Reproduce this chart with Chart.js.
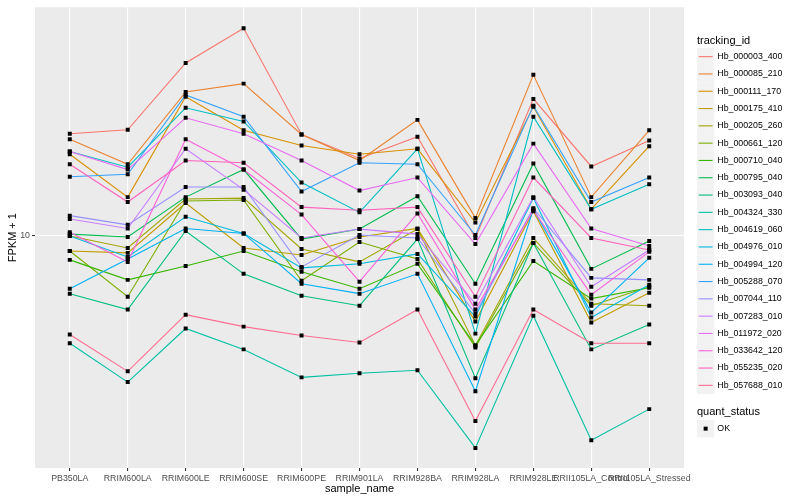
<!DOCTYPE html>
<html>
<head>
<meta charset="utf-8">
<script src="https://cdn.jsdelivr.net/npm/chart.js@4"></script>
<style>
  html, body { margin: 0; padding: 0; background: #fff; }
  #wrap { width: 800px; height: 500px; }
</style>
</head>
<body>
<div id="wrap"><canvas id="fpkmChart" width="800" height="500"></canvas></div>
<script>
const categories = ['PB350LA', 'RRIM600LA', 'RRIM600LE', 'RRIM600SE', 'RRIM600PE', 'RRIM901LA',
  'RRIM928BA', 'RRIM928LA', 'RRIM928LE', 'RRII105LA_Control', 'RRII105LA_Stressed'];

const trackingIds = ['Hb_000003_400', 'Hb_000085_210', 'Hb_000111_170', 'Hb_000175_410', 'Hb_000205_260',
  'Hb_000661_120', 'Hb_000710_040', 'Hb_000795_040', 'Hb_003093_040', 'Hb_004324_330',
  'Hb_004619_060', 'Hb_004976_010', 'Hb_004994_120', 'Hb_005288_070', 'Hb_007044_110',
  'Hb_007283_010', 'Hb_011972_020', 'Hb_033642_120', 'Hb_055235_020', 'Hb_057688_010'];

const seriesColors = ['#F8766D', '#EA8331', '#D89000', '#C09B00', '#A3A500', '#7CAE00', '#39B600', '#00BB4E',
  '#00BF7D', '#00C1A3', '#00BFC4', '#00BAE0', '#00B0F6', '#35A2FF', '#9590FF', '#C77CFF',
  '#E76BF3', '#FA62DB', '#FF62BC', '#FF6C91'];

// FPKM + 1, one value per sample
const hb_000003_400 = [22.0, 22.7, 38.0, 49.7, 21.9, 18.2, 21.5, 9.85, 28.8, 17.1, 20.9];
const hb_000085_210 = [21.1, 17.4, 30.4, 32.4, 21.9, 17.9, 24.5, 11.5, 34.7, 13.5, 22.6];
const hb_000111_170 = [18.8, 13.5, 29.3, 22.6, 20.1, 18.8, 19.6, 11.1, 27.1, 12.3, 20.0];
const hb_000175_410 = [8.91, 8.78, 12.9, 9.12, 8.64, 9.92, 10.6, 5.17, 12.1, 5.13, 6.46];
const hb_000205_260 = [10.0, 9.12, 13.3, 13.4, 9.05, 8.19, 10.55, 4.30, 9.85, 5.93, 5.84];
const hb_000661_120 = [8.91, 6.26, 13.1, 13.2, 7.08, 9.55, 8.38, 4.23, 9.48, 5.84, 6.76];
const hb_000710_040 = [8.32, 7.13, 7.94, 8.91, 7.59, 6.66, 8.07, 4.30, 8.25, 6.17, 6.71];
const hb_000795_040 = [10.15, 9.92, 13.5, 16.7, 9.77, 10.55, 13.6, 6.92, 17.5, 7.76, 9.62];
const hb_003093_040 = [6.41, 5.67, 10.4, 7.47, 6.31, 5.84, 9.77, 3.34, 9.48, 4.17, 5.05];
const hb_004324_330 = [4.37, 3.24, 4.90, 4.17, 3.36, 3.47, 3.55, 1.95, 5.41, 2.07, 2.63];
const hb_004619_060 = [19.2, 17.0, 26.9, 24.2, 15.1, 12.0, 19.6, 4.71, 25.1, 12.3, 14.9];
const hb_004976_010 = [10.0, 8.51, 11.6, 10.2, 7.82, 8.07, 8.71, 5.37, 13.4, 5.33, 6.87];
const hb_004994_120 = [6.66, 8.38, 10.6, 10.2, 6.92, 6.41, 7.47, 3.02, 12.3, 5.54, 8.45];
const hb_005288_070 = [15.8, 16.1, 29.7, 25.1, 14.1, 17.6, 17.4, 10.08, 27.3, 13.0, 15.7];
const hb_007044_110 = [11.7, 10.9, 14.6, 14.6, 7.88, 10.08, 9.85, 5.50, 12.4, 7.24, 7.13];
const hb_007283_010 = [11.4, 10.6, 19.6, 14.3, 9.85, 10.55, 10.15, 5.93, 13.5, 6.76, 8.98];
const hb_011972_020 = [19.2, 16.7, 24.9, 22.0, 17.9, 14.2, 15.7, 9.40, 20.4, 10.6, 9.26];
const hb_033642_120 = [10.3, 8.19, 21.1, 16.7, 11.8, 7.03, 11.9, 5.67, 12.2, 6.36, 8.85];
const hb_055235_020 = [17.4, 13.0, 17.9, 17.6, 12.5, 12.2, 12.5, 6.26, 15.7, 9.85, 8.98];
const hb_057688_010 = [4.68, 3.52, 5.45, 4.97, 4.64, 4.40, 5.67, 2.40, 5.67, 4.37, 4.37];

const seriesValues = [hb_000003_400, hb_000085_210, hb_000111_170, hb_000175_410, hb_000205_260,
  hb_000661_120, hb_000710_040, hb_000795_040, hb_003093_040, hb_004324_330,
  hb_004619_060, hb_004976_010, hb_004994_120, hb_005288_070, hb_007044_110,
  hb_007283_010, hb_011972_020, hb_033642_120, hb_055235_020, hb_057688_010];

const fontFamily = "'Liberation Sans', Arial, Helvetica, sans-serif";

const lineSets = seriesValues.map((vals, i) => ({
  label: trackingIds[i],
  type: 'line',
  data: vals.map((v, j) => ({ x: j + 1, y: v })),
  borderColor: seriesColors[i],
  borderWidth: 1.1,
  pointRadius: 0,
  tension: 0,
  fill: false,
  order: seriesValues.length - i
}));

// every point has quant_status OK -> small black square, drawn over all lines
const okPoints = [];
seriesValues.forEach(vals => vals.forEach((v, j) => okPoints.push({ x: j + 1, y: v })));

const panelBg = {
  id: 'panelBg',
  beforeDraw(chart) {
    const { ctx, chartArea: a } = chart;
    ctx.save();
    ctx.fillStyle = '#EBEBEB';
    ctx.fillRect(a.left, a.top, a.right - a.left, a.bottom - a.top);
    ctx.restore();
  }
};

const ggLegend = {
  id: 'ggLegend',
  afterDraw(chart) {
    const ctx = chart.ctx;
    const x0 = 697, key = 17.3;
    ctx.save();
    ctx.textBaseline = 'middle';
    ctx.fillStyle = '#000';
    ctx.font = '11px ' + fontFamily;
    ctx.fillText('tracking_id', x0, 41);
    ctx.font = '8.8px ' + fontFamily;
    trackingIds.forEach((id, i) => {
      const top = 48 + i * key;
      ctx.fillStyle = '#F2F2F2';
      ctx.fillRect(x0, top, key, key);
      ctx.strokeStyle = seriesColors[i];
      ctx.lineWidth = 1.1;
      ctx.beginPath();
      ctx.moveTo(x0 + 1.7, top + key / 2);
      ctx.lineTo(x0 + key - 1.7, top + key / 2);
      ctx.stroke();
      ctx.fillStyle = '#000';
      ctx.fillText(id, x0 + key + 3, top + key / 2);
    });
    ctx.font = '11px ' + fontFamily;
    ctx.fillText('quant_status', x0, 412);
    const top = 420;
    ctx.fillStyle = '#F2F2F2';
    ctx.fillRect(x0, top, key, key);
    ctx.fillStyle = '#000';
    ctx.fillRect(x0 + key / 2 - 2, top + key / 2 - 2, 4, 4);
    ctx.font = '8.8px ' + fontFamily;
    ctx.fillText('OK', x0 + key + 3, top + key / 2);
    ctx.restore();
  }
};

const config = {
  type: 'line',
  data: {
    datasets: [
      ...lineSets,
      {
        label: 'OK',
        type: 'scatter',
        data: okPoints,
        showLine: false,
        pointStyle: 'rect',
        pointRadius: 2.8,
        pointBackgroundColor: '#000',
        pointBorderWidth: 0,
        order: 0
      }
    ]
  },
  options: {
    responsive: false,
    animation: false,
    devicePixelRatio: 1,
    layout: { padding: { top: 5, right: 116, left: 0, bottom: 0 } },
    plugins: {
      legend: { display: false },
      tooltip: { enabled: false }
    },
    scales: {
      x: {
        type: 'linear',
        min: 0.4,
        max: 11.6,
        afterBuildTicks: s => { s.ticks = categories.map((c, i) => ({ value: i + 1 })); },
        afterFit: s => { s.height = 32; },
        ticks: {
          callback: v => categories[Math.round(v) - 1],
          autoSkip: false,
          maxRotation: 0,
          minRotation: 0,
          color: '#4D4D4D',
          padding: 2,
          font: { size: 8.8, family: fontFamily }
        },
        grid: { color: '#FFFFFF', lineWidth: 1.1, tickLength: 3, tickColor: '#333333' },
        border: { display: false },
        title: {
          display: true,
          text: 'sample_name',
          color: '#000',
          font: { size: 11, family: fontFamily },
          padding: { top: 0, bottom: 4 }
        }
      },
      y: {
        type: 'logarithmic',
        min: 1.67,
        max: 58.4,
        afterBuildTicks: s => { s.ticks = [{ value: 10 }]; },
        afterFit: s => { s.width = 35; },
        ticks: {
          callback: v => (v === 10 ? '10' : ''),
          color: '#4D4D4D',
          padding: 2,
          font: { size: 8.8, family: fontFamily }
        },
        grid: { color: '#FFFFFF', lineWidth: 1.1, tickLength: 3, tickColor: '#333333' },
        border: { display: false },
        title: {
          display: true,
          text: 'FPKM + 1',
          color: '#000',
          font: { size: 11, family: fontFamily },
          padding: { top: 6, bottom: 0 }
        }
      }
    }
  },
  plugins: [panelBg, ggLegend]
};

new Chart(document.getElementById('fpkmChart').getContext('2d'), config);
</script>
</body>
</html>
